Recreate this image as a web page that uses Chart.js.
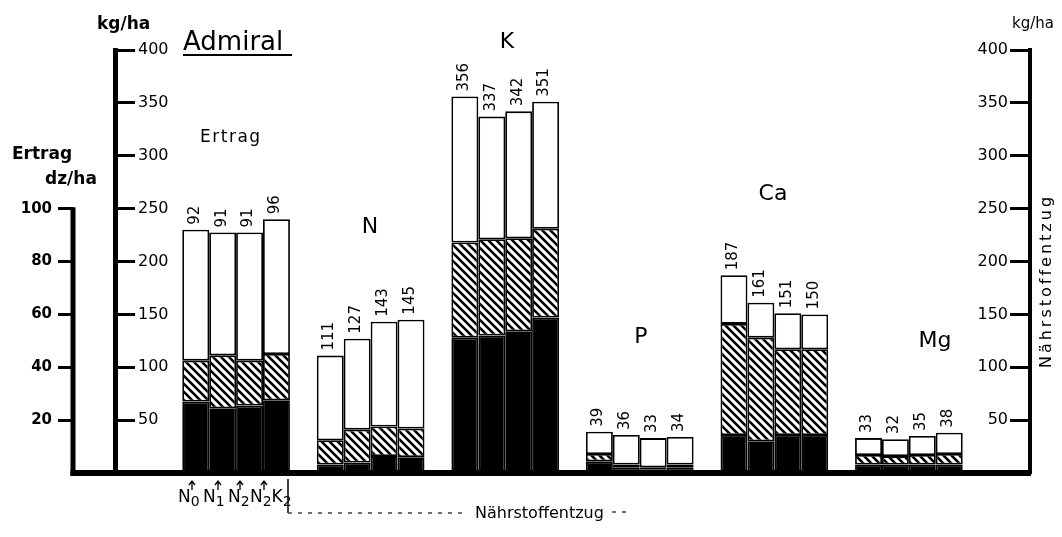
<!DOCTYPE html>
<html>
<head>
<meta charset="utf-8">
<script src="https://cdn.jsdelivr.net/npm/chart.js@4/dist/chart.umd.min.js"></script>
<style>
  html, body { margin: 0; padding: 0; background: #fff; }
  canvas { display: block; }
</style>
</head>
<body>
<canvas id="chart" width="1062" height="537"></canvas>
<script>
/* ===============================
   DATEN  (Sorte Admiral)
   schwarz / schraffiert / weiss
================================ */

const treatments = ["N0", "N1", "N2", "N2K2"];
const groups = ["Ertrag", "N", "K", "P", "Ca", "Mg"];

// Ertrag, dz/ha
const ertragBlack = [27, 24.5, 25.5, 27.5];
const ertragHatch = [15.5, 20, 17, 17.5];
const ertragWhite = [49.5, 46.5, 48.5, 51];
const ertragLabels = ["92", "91", "91", "96"];

// Nährstoffentzug, kg/ha
const nBlack = [8, 10, 16, 15];
const nHatch = [23, 31, 28, 27];
const nWhite = [80, 86, 99, 103];
const nLabels = ["111", "127", "143", "145"];

const kBlack = [128, 130, 134, 147];
const kHatch = [90, 91, 88, 84];
const kWhite = [138, 116, 120, 120];
const kLabels = ["356", "337", "342", "351"];

const pBlack = [11, 5, 3.5, 5];
const pHatch = [7, 3, 2, 3];
const pWhite = [21, 28, 27.5, 26];
const pLabels = ["39", "36", "33", "34"];

const caBlack = [36, 30, 36, 36];
const caHatch = [105, 98, 81, 81];
const caWhite = [46, 33, 34, 33];
const caLabels = ["187", "161", "151", "150"];

const mgBlack = [8, 8, 8, 8];
const mgHatch = [9, 8, 9, 10];
const mgWhite = [16, 16, 18, 20];
const mgLabels = ["33", "32", "35", "38"];

const dzTicks = [20, 40, 60, 80, 100];
const kgTicks = [50, 100, 150, 200, 250, 300, 350, 400];

/* ===============================
   HILFSFUNKTIONEN
================================ */

// Gruppe g steht bei x = g*5 .. g*5+3 (eine Lücke zwischen den Gruppen)
function points(groupIndex, values) {
  return values.map((v, i) => ({ x: groupIndex * 5 + i, y: v }));
}

function nutrientPoints(lists) {
  return lists.flatMap((values, i) => points(i + 1, values));
}

const nutrientLabels = [nLabels, kLabels, pLabels, caLabels, mgLabels].flat();

function makeHatch() {
  const size = 8;
  const c = document.createElement("canvas");
  c.width = size;
  c.height = size;
  const g = c.getContext("2d");
  g.fillStyle = "#fff";
  g.fillRect(0, 0, size, size);
  g.strokeStyle = "#000";
  g.lineWidth = 2.6;
  g.beginPath();
  g.moveTo(-2, -2); g.lineTo(size + 2, size + 2);
  g.moveTo(-2, size - 2); g.lineTo(2, size + 2);
  g.moveTo(size - 2, -2); g.lineTo(size + 2, 2);
  g.stroke();
  return g.createPattern(c, "repeat");
}

const hatch = makeHatch();

const barStyle = {
  borderColor: "#000",
  borderWidth: 1.8,
  borderSkipped: false,
  barPercentage: 1,
  categoryPercentage: 1,
  inflateAmount: 0
};

function drawSubLabel(ctx, str, x, y) {
  // Buchstaben normal, Ziffern tiefgestellt
  let cx = x;
  for (const ch of str) {
    const isDigit = /[0-9]/.test(ch);
    ctx.font = isDigit ? "14px 'DejaVu Sans'" : "17px 'DejaVu Sans'";
    ctx.fillText(ch, cx, isDigit ? y + 4 : y);
    cx += ctx.measureText(ch).width;
  }
}

/* ===============================
   BESCHRIFTUNG (Plugin)
================================ */

const decor = {
  id: "decor",
  afterDatasetsDraw(chart) {
    const ctx = chart.ctx;
    ctx.save();
    ctx.fillStyle = "#000";
    ctx.font = "15px 'DejaVu Sans'";
    ctx.textAlign = "left";
    ctx.textBaseline = "middle";
    [[2, ertragLabels], [5, nutrientLabels]].forEach(([dsIndex, labels]) => {
      chart.getDatasetMeta(dsIndex).data.forEach((bar, i) => {
        ctx.save();
        ctx.translate(bar.x - 1, bar.y - 5);
        ctx.rotate(-Math.PI / 2);
        ctx.fillText(labels[i], 0, 0);
        ctx.restore();
      });
    });
    ctx.restore();
  },
  afterDraw(chart) {
    const { ctx, scales, chartArea } = chart;
    const yd = scales.yd;
    ctx.save();
    ctx.fillStyle = "#000";
    ctx.strokeStyle = "#000";

    // Ertragsachse nur 0..100 dz/ha
    ctx.lineWidth = 5;
    ctx.beginPath();
    ctx.moveTo(yd.right, yd.getPixelForValue(100) - 1.5);
    ctx.lineTo(yd.right, chartArea.bottom + 3);
    ctx.stroke();

    // Grundlinie bis zur Ertragsachse verlängern
    ctx.lineWidth = 6;
    ctx.beginPath();
    ctx.moveTo(yd.right - 2.5, chartArea.bottom);
    ctx.lineTo(chartArea.left, chartArea.bottom);
    ctx.stroke();

    ctx.textAlign = "left";
    ctx.textBaseline = "alphabetic";

    ctx.font = "bold 17px 'DejaVu Sans'";
    ctx.fillText("kg/ha", 97, 29);
    ctx.fillText("Ertrag", 12, 159);
    ctx.fillText("dz/ha", 45, 184);

    ctx.font = "26px 'DejaVu Sans'";
    ctx.fillText("Admiral", 183, 50);
    ctx.lineWidth = 2;
    ctx.beginPath();
    ctx.moveTo(183, 55);
    ctx.lineTo(292, 55);
    ctx.stroke();

    ctx.font = "17px 'DejaVu Sans'";
    ctx.letterSpacing = "1.5px";
    ctx.fillText(groups[0], 200, 142);
    ctx.letterSpacing = "0px";

    ctx.font = "15px 'DejaVu Sans'";
    ctx.fillText("kg/ha", 1012, 28);

    // Nährstoff-Buchstaben
    ctx.font = "22px 'DejaVu Sans'";
    ctx.textAlign = "center";
    const groupPos = [[370, 233], [507, 48], [641, 343], [773, 200], [935, 347]];
    groups.slice(1).forEach((g, i) => {
      ctx.fillText(g, groupPos[i][0], groupPos[i][1]);
    });

    // rechter Achsentitel
    ctx.save();
    ctx.translate(1047, 281);
    ctx.rotate(-Math.PI / 2);
    ctx.font = "16px 'DejaVu Sans'";
    ctx.letterSpacing = "3px";
    ctx.textBaseline = "middle";
    ctx.fillText("Nährstoffentzug", 0, 0);
    ctx.restore();

    // Varianten unter den Ertragssäulen
    ctx.textAlign = "left";
    const arrowX = [192, 218, 240, 264];
    const labelX = [178, 203, 228, 250];
    ctx.lineWidth = 1.3;
    treatments.forEach((t, i) => {
      const ax = arrowX[i];
      ctx.beginPath();
      ctx.moveTo(ax, 490);
      ctx.lineTo(ax, 481);
      ctx.moveTo(ax - 3, 485);
      ctx.lineTo(ax, 481);
      ctx.lineTo(ax + 3, 485);
      ctx.stroke();
      drawSubLabel(ctx, t, labelX[i], 502);
    });

    // Klammer "Nährstoffentzug"
    ctx.lineWidth = 1.5;
    ctx.beginPath();
    ctx.moveTo(288, 479);
    ctx.lineTo(288, 513);
    ctx.stroke();
    ctx.strokeStyle = "#444";
    ctx.setLineDash([4, 6]);
    ctx.beginPath();
    ctx.moveTo(288, 513);
    ctx.lineTo(468, 513);
    ctx.moveTo(612, 512);
    ctx.lineTo(628, 512);
    ctx.stroke();
    ctx.setLineDash([]);
    ctx.font = "16px 'DejaVu Sans'";
    ctx.fillText("Nährstoffentzug", 475, 518);

    ctx.restore();
  }
};

/* ===============================
   DIAGRAMM
================================ */

const tickFont = { family: "DejaVu Sans", size: 16 };

new Chart(document.getElementById("chart"), {
  type: "bar",
  data: {
    datasets: [
      { ...barStyle, label: "Ertrag schwarz", yAxisID: "yd", backgroundColor: "#000", data: points(0, ertragBlack) },
      { ...barStyle, label: "Ertrag schraffiert", yAxisID: "yd", backgroundColor: hatch, data: points(0, ertragHatch) },
      { ...barStyle, label: "Ertrag weiss", yAxisID: "yd", backgroundColor: "#fff", data: points(0, ertragWhite) },
      { ...barStyle, label: "Entzug schwarz", yAxisID: "y", backgroundColor: "#000",
        data: nutrientPoints([nBlack, kBlack, pBlack, caBlack, mgBlack]) },
      { ...barStyle, label: "Entzug schraffiert", yAxisID: "y", backgroundColor: hatch,
        data: nutrientPoints([nHatch, kHatch, pHatch, caHatch, mgHatch]) },
      { ...barStyle, label: "Entzug weiss", yAxisID: "y", backgroundColor: "#fff",
        data: nutrientPoints([nWhite, kWhite, pWhite, caWhite, mgWhite]) }
    ]
  },
  options: {
    responsive: false,
    animation: false,
    devicePixelRatio: 1,
    layout: { padding: { top: 50, left: 0, right: 0, bottom: 0 } },
    plugins: {
      legend: { display: false },
      tooltip: { enabled: false }
    },
    scales: {
      x: {
        type: "linear",
        min: -3,
        max: 31,
        offset: false,
        stacked: true,
        ticks: { display: false, stepSize: 1 },
        grid: { display: false, offset: false },
        border: { display: true, color: "#000", width: 6 },
        afterFit: s => { s.height = 64; }
      },
      yd: {
        type: "linear",
        position: "left",
        weight: 1,
        stacked: true,
        min: 0,
        max: 160,
        afterBuildTicks: s => { s.ticks = dzTicks.map(v => ({ value: v })); },
        ticks: { color: "#000", font: { ...tickFont, size: 15, weight: "bold" }, padding: 6 },
        grid: { display: true, drawOnChartArea: false, drawTicks: true, tickLength: 15, tickWidth: 3, tickColor: "#000" },
        border: { display: false },
        afterFit: s => { s.width = 73; }
      },
      y: {
        type: "linear",
        position: "left",
        weight: 0,
        stacked: true,
        min: 0,
        max: 400,
        afterBuildTicks: s => { s.ticks = kgTicks.map(v => ({ value: v })); },
        ticks: { color: "#000", font: tickFont, mirror: true, padding: 23 },
        grid: { display: true, drawOnChartArea: false, drawTicks: true, tickLength: -20, tickWidth: 3, tickColor: "#000" },
        border: { display: true, color: "#000", width: 5 },
        afterFit: s => { s.width = 42; }
      },
      y2: {
        type: "linear",
        position: "right",
        min: 0,
        max: 400,
        afterBuildTicks: s => { s.ticks = kgTicks.map(v => ({ value: v })); },
        ticks: { color: "#000", font: tickFont, mirror: true, padding: -22 },
        grid: { display: true, drawOnChartArea: false, drawTicks: true, tickLength: -20, tickWidth: 3, tickColor: "#000" },
        border: { display: true, color: "#000", width: 4 },
        afterFit: s => { s.width = 32; }
      }
    }
  },
  plugins: [decor]
});
</script>
</body>
</html>
